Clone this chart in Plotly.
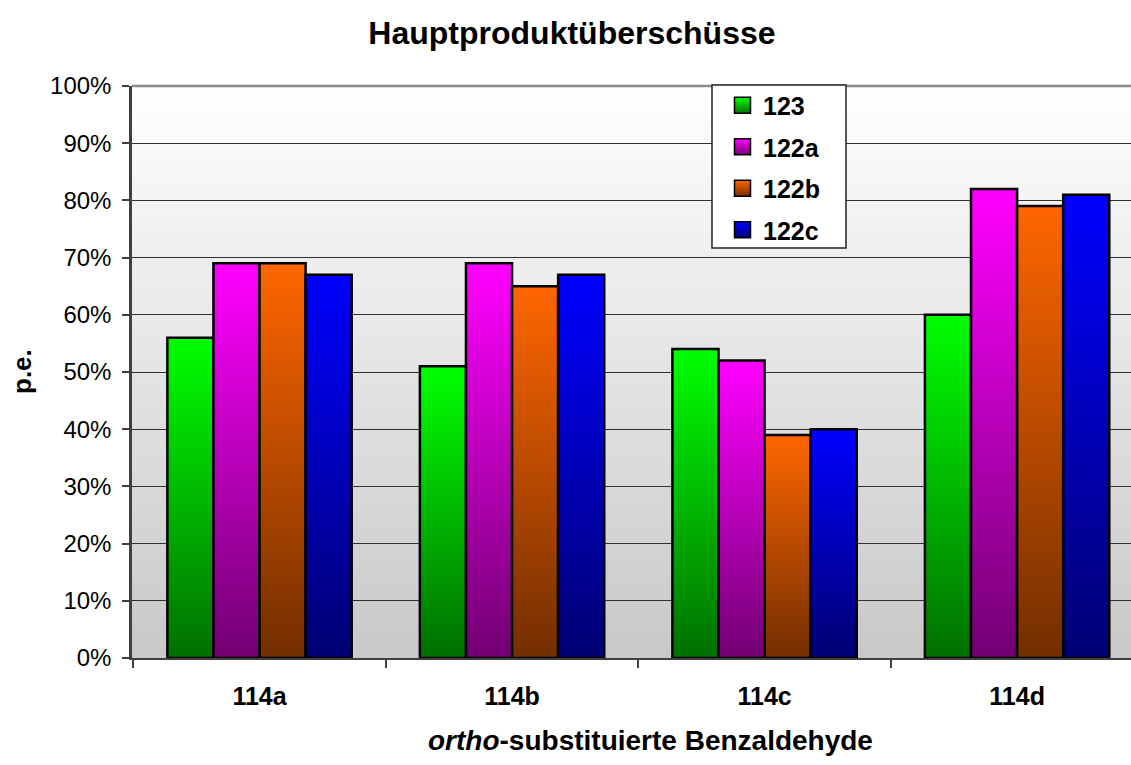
import plotly.graph_objects as go

# Categories and series (Hauptprodukt-Überschüsse, p.e. as fraction)
categories = ["114a", "114b", "114c", "114d"]
series_names = ["123", "122a", "122b", "122c"]
values_123 = [0.56, 0.51, 0.54, 0.60]
values_122a = [0.69, 0.69, 0.52, 0.82]
values_122b = [0.69, 0.65, 0.39, 0.79]
values_122c = [0.67, 0.67, 0.40, 0.81]
series_values = [values_123, values_122a, values_122b, values_122c]
y_tick_values = [0.0, 0.1, 0.2, 0.3, 0.4, 0.5, 0.6, 0.7, 0.8, 0.9, 1.0]

# Gradient colours per series: bright at the top, dark at the base
top_colors = ["#00FF00", "#FF00FF", "#FF6600", "#0000FF"]
base_colors = ["#007000", "#720072", "#722E00", "#000072"]

FONT = "Arial, Liberation Sans, sans-serif"
GROUP_WIDTH = 0.73
bar_w = GROUP_WIDTH / len(series_names)

fig = go.Figure()

# Bars: one filled rectangle per value, with a vertical fill gradient
for j, (name, vals) in enumerate(zip(series_names, series_values)):
    offset = -GROUP_WIDTH / 2 + bar_w * (j + 0.5)
    for i, v in enumerate(vals):
        x0 = i + offset - bar_w / 2
        x1 = x0 + bar_w
        fig.add_trace(go.Scatter(
            x=[x0, x0, x1, x1, x0],
            y=[0, v, v, 0, 0],
            mode="lines",
            fill="toself",
            fillgradient=dict(type="vertical",
                              colorscale=[[0, base_colors[j]], [1, top_colors[j]]],
                              start=0, stop=v),
            line=dict(color="black", width=2.5),
            name=name,
            legendgroup=name,
            showlegend=False,
            hoveron="fills",
            text=f"{categories[i]} – {name}: {v:.0%}",
            hoverinfo="text",
        ))

# Legend entries with matching gradient swatches
for j, name in enumerate(series_names):
    fig.add_trace(go.Scatter(
        x=[None], y=[None],
        mode="markers",
        marker=dict(symbol="square", size=17, color=top_colors[j],
                    gradient=dict(type="vertical", color=base_colors[j]),
                    line=dict(color="black", width=1.5)),
        name=name,
        legendgroup=name,
        showlegend=True,
    ))

# Plot-area background: white at the top fading to light grey at the bottom
shapes = []
N_STRIPS = 110
for k in range(N_STRIPS):
    g = int(round(200 + 55 * (k + 0.5) / N_STRIPS))
    shapes.append(dict(type="rect", xref="paper", yref="paper",
                       x0=0, x1=1, y0=k / N_STRIPS, y1=(k + 1) / N_STRIPS + 0.002,
                       fillcolor=f"rgb({g},{g},{g})", line=dict(width=0),
                       layer="below"))
# top frame line of the plot area
shapes.append(dict(type="line", xref="paper", yref="paper", x0=0, x1=1, y0=1, y1=1,
                   line=dict(color="#8c8c8c", width=2.5), layer="above"))
# legend frame (white box behind the legend entries)
LEG_X0, LEG_X1, LEG_Y0, LEG_Y1 = 712, 846, 85, 248
shapes.append(dict(type="rect", xref="paper", yref="paper",
                   x0=(LEG_X0 - 132) / 999, x1=(LEG_X1 - 132) / 999,
                   y0=(658 - LEG_Y1) / 572, y1=(658 - LEG_Y0) / 572,
                   fillcolor="white", line=dict(color="#222222", width=1.5),
                   layer="above"))

fig.update_layout(
    width=1131, height=765,
    margin=dict(l=132, r=0, t=86, b=107),
    paper_bgcolor="white",
    plot_bgcolor="white",
    font=dict(family=FONT, color="black"),
    shapes=shapes,
    title=dict(text="<b>Hauptproduktüberschüsse</b>",
               font=dict(family=FONT, size=32, color="black"),
               x=0.5057, xref="container", xanchor="center",
               y=1 - 33 / 765, yref="container", yanchor="middle"),
    xaxis=dict(
        range=[-0.505, 3.451],
        tickmode="array", tickvals=list(range(len(categories))), ticktext=categories,
        ticks="", ticklabelstandoff=15,
        tickfont=dict(family=FONT, size=25, color="black", weight="bold"),
        minor=dict(tickmode="array", tickvals=[-0.5, 0.5, 1.5, 2.5, 3.5],
                   ticks="outside", ticklen=8, tickwidth=1.5, tickcolor="#404040",
                   showgrid=False),
        showgrid=False, zeroline=False,
        showline=True, linecolor="#404040", linewidth=2,
        fixedrange=True,
    ),
    yaxis=dict(
        range=[0, 1],
        tickmode="array", tickvals=y_tick_values, tickformat=".0%",
        ticks="outside", ticklen=7, tickwidth=1.5, tickcolor="#404040",
        ticklabelstandoff=6,
        tickfont=dict(family=FONT, size=24, color="black"),
        showgrid=True, gridcolor="#303030", gridwidth=1,
        zeroline=False,
        showline=True, linecolor="#404040", linewidth=2.5,
        fixedrange=True,
    ),
    legend=dict(
        x=(722 - 132) / 999, y=1.006, xanchor="left", yanchor="top",
        bgcolor="rgba(0,0,0,0)", borderwidth=0,
        font=dict(family=FONT, size=25, color="black", weight="bold"),
        traceorder="grouped", tracegroupgap=6,
        itemwidth=31,
        itemclick=False, itemdoubleclick=False,
    ),
    annotations=[
        dict(text="<b><i>ortho</i>-substituierte Benzaldehyde</b>",
             xref="paper", yref="paper", x=(650 - 132) / 999, y=(658 - 740) / 572,
             xanchor="center", yanchor="middle", showarrow=False,
             font=dict(family=FONT, size=28, color="black")),
        dict(text="<b>p.e.</b>",
             xref="paper", yref="paper", x=(22 - 132) / 999, y=0.5,
             xanchor="center", yanchor="middle", showarrow=False, textangle=-90,
             font=dict(family=FONT, size=26, color="black")),
    ],
)

fig.write_html("out.html")
